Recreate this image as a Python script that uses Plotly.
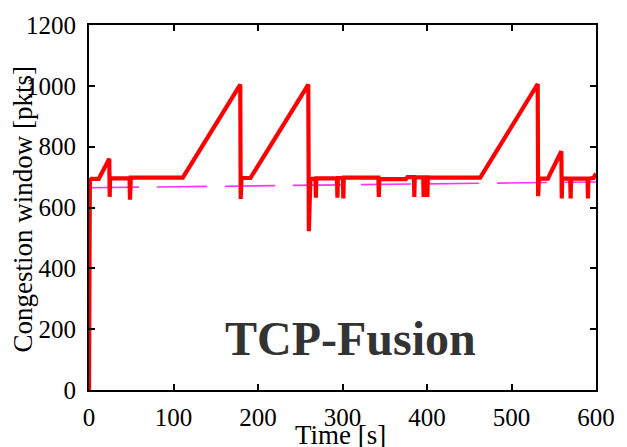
import plotly.graph_objects as go

# Congestion window (red)
time_s = [0, 1, 3, 11.5, 24, 24.5, 25, 48, 48.5, 49.5, 111, 179, 179.5, 180.5, 191,
          259.5, 260.2, 262, 268, 268.5, 269, 293.5, 294, 294.5, 300.5, 301, 301.5,
          342.5, 343, 343.5, 375, 377, 384.5, 385, 385.5, 395.5, 396, 396.5, 400,
          400.5, 401, 463, 531, 531.5, 532.5, 543, 559, 559.5, 560, 569.5, 570,
          570.5, 590, 590.5, 591, 597, 600]
cwnd = [0, 690, 694, 694, 760, 635, 696, 696, 626, 698, 698, 1004, 628, 697, 697,
        1004, 522, 694, 694, 632, 696, 696, 632, 697, 697, 630, 698,
        698, 635, 693, 693, 700, 700, 635, 699, 699, 635, 699, 699,
        635, 698, 698, 1006, 637, 695, 695, 785, 630, 695, 695, 630,
        695, 695, 630, 695, 697, 712]

# Reference level (magenta dashed)
ref_time = [0, 600]
ref_level = [665, 684]

x_ticks = [0, 100, 200, 300, 400, 500, 600]
y_ticks = [0, 200, 400, 600, 800, 1000, 1200]

font_family = "Liberation Serif, Times New Roman, serif"

fig = go.Figure()
fig.add_trace(go.Scatter(x=ref_time, y=ref_level, mode="lines",
                         line=dict(color="#ff33ff", width=1.6, dash="50px,18px"),
                         showlegend=False, hoverinfo="skip"))
fig.add_trace(go.Scatter(x=time_s, y=cwnd, mode="lines",
                         line=dict(color="#ff0000", width=4.2),
                         showlegend=False))

axis_common = dict(showline=True, linecolor="black", linewidth=2, mirror="ticks",
                   ticks="inside", ticklen=6, tickwidth=1.5, tickcolor="black",
                   showgrid=False, zeroline=False,
                   tickfont=dict(family=font_family, size=25, color="black"))

fig.update_xaxes(range=[0, 600], tickvals=x_ticks, ticklabelstandoff=4, **axis_common)
fig.update_yaxes(range=[0, 1200], tickvals=y_ticks, ticklabelstandoff=6, **axis_common)

fig.add_annotation(text="Congestion window [pkts]", textangle=-90, xref="paper", yref="paper",
                   x=-0.13, y=0.495, xanchor="center", yanchor="middle", showarrow=False,
                   font=dict(family=font_family, size=27, color="black"))
fig.add_annotation(text="Time [s]", xref="paper", yref="paper",
                   x=0.497, y=-0.077, xanchor="center", yanchor="top", showarrow=False,
                   font=dict(family=font_family, size=27, color="black"))
fig.add_annotation(text="<b>TCP-Fusion</b>", xref="x", yref="y", x=310, y=168,
                   xanchor="center", yanchor="middle", showarrow=False,
                   font=dict(family=font_family, size=48, color="#333333"))

fig.update_layout(width=627, height=447, margin=dict(l=89, r=24, t=18, b=57),
                  paper_bgcolor="white", plot_bgcolor="white",
                  font=dict(family=font_family, size=24, color="black"))

fig.write_html("out.html")
